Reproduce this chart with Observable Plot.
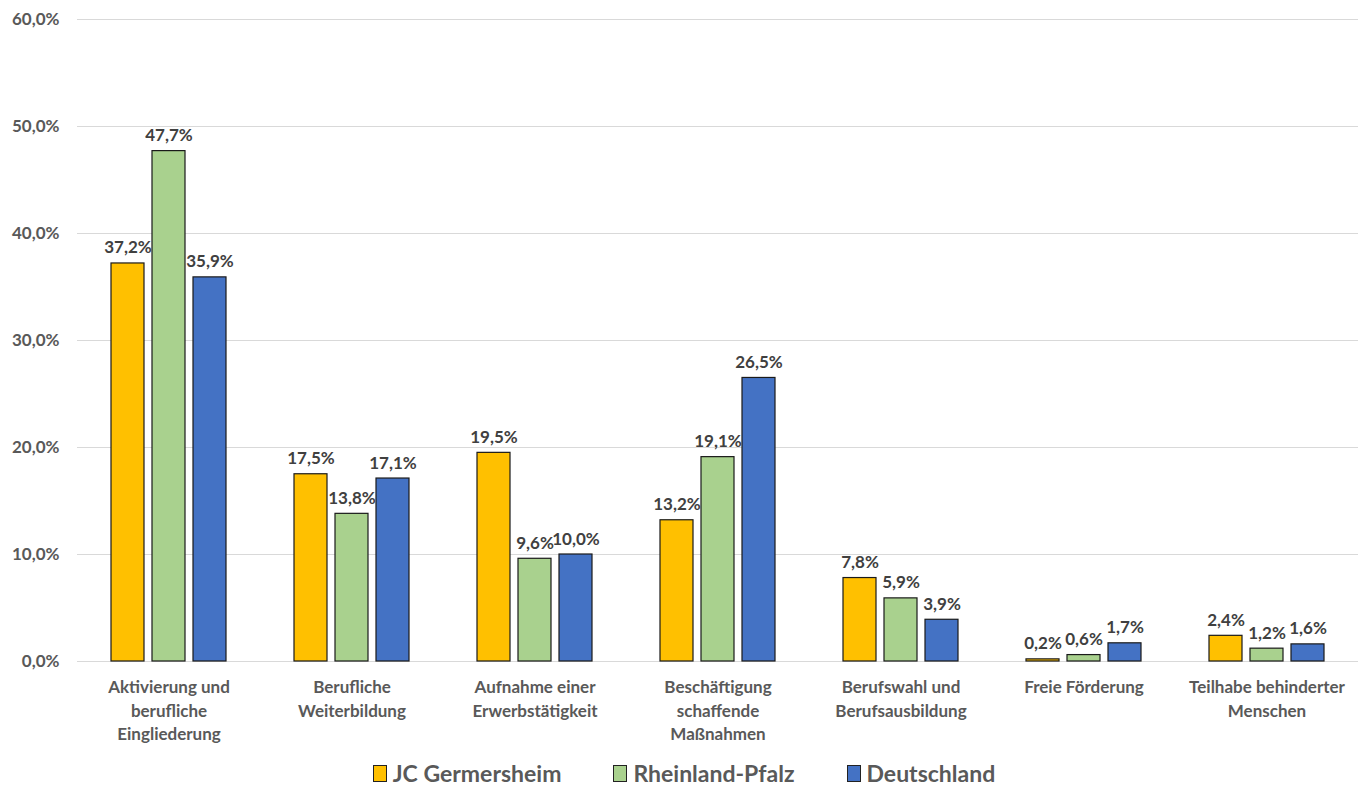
<!DOCTYPE html>
<html><head><meta charset="utf-8">
<script src="https://cdn.jsdelivr.net/npm/d3@7"></script>
<script src="https://cdn.jsdelivr.net/npm/@observablehq/plot@0.6"></script>
<style>
body{margin:0;background:#fff;font-family:Lato,"Open Sans",sans-serif;}
#legend{display:flex;justify-content:center;gap:52px;font-weight:bold;font-size:23px;color:#595959;margin-top:9px;line-height:28px;}
#legend span.item{display:flex;align-items:center;}
#legend span.sw{display:inline-block;width:12px;height:15px;border:1.5px solid #222;margin-right:6px;}
</style></head>
<body>
<div id="chart"></div>
<div id="legend"></div>
<script>
const categories = ["Aktivierung und berufliche Eingliederung","Berufliche Weiterbildung","Aufnahme einer Erwerbstätigkeit","Beschäftigung schaffende Maßnahmen","Berufswahl und Berufsausbildung","Freie Förderung","Teilhabe behinderter Menschen"];
const categoryLines = ["Aktivierung und\nberufliche\nEingliederung","Berufliche\nWeiterbildung","Aufnahme einer\nErwerbstätigkeit","Beschäftigung\nschaffende\nMaßnahmen","Berufswahl und\nBerufsausbildung","Freie Förderung","Teilhabe behinderter\nMenschen"];
const series = ["JC Germersheim","Rheinland-Pfalz","Deutschland"];
const colors = ["#FFC000","#A9D18E","#4472C4"];
const jcGermersheim = [37.2,17.5,19.5,13.2,7.8,0.2,2.4];
const rheinlandPfalz = [47.7,13.8,9.6,19.1,5.9,0.6,1.2];
const deutschland = [35.9,17.1,10.0,26.5,3.9,1.7,1.6];
const yTicks = [0,10,20,30,40,50,60];

const values = [jcGermersheim, rheinlandPfalz, deutschland];
const data = [];
categories.forEach((c,i)=>series.forEach((s,j)=>data.push({category:c, series:s, value:values[j][i]})));
const fmt = d => d.toFixed(1).replace(".", ",") + "%";
const labelMap = new Map(categories.map((c,i)=>[c, categoryLines[i]]));

const chart = Plot.plot({
  width: 1368, height: 750,
  marginLeft: 75, marginRight: 8, marginTop: 19, marginBottom: 89,
  style: {fontFamily: "Lato, 'Open Sans', sans-serif", background: "#fff"},
  fx: {domain: categories, padding: 0, label: null},
  x: {domain: series, paddingInner: 0.2, paddingOuter: 0.825, axis: null},
  y: {domain: [0,60], label: null},
  color: {domain: series, range: colors},
  marks: [
    Plot.ruleY(yTicks, {stroke: "#d9d9d9", strokeWidth: 1}),
    Plot.axisY({ticks: yTicks, tickFormat: fmt, tickSize: 0, tickPadding: 18, fontSize: 17, fontWeight: "bold", fill: "#595959", label: null}),
    Plot.axisFx({anchor: "bottom", tickSize: 0, tickPadding: 15, tickFormat: d => labelMap.get(d), fontSize: 17, fontWeight: "bold", fill: "#595959", lineHeight: 1.38, textAnchor: "middle", lineAnchor: "top", label: null}),
    Plot.barY(data, {fx: "category", x: "series", y: "value", fill: "series", stroke: "#1a1a1a", strokeWidth: 1.2}),
    Plot.text(data, {fx: "category", x: "series", y: "value", text: d => fmt(d.value), dy: -10, lineAnchor: "bottom", fontSize: 17, fontWeight: "bold", fill: "#404040"})
  ]
});
document.getElementById("chart").appendChild(chart);

const legend = document.getElementById("legend");
series.forEach((s,i)=>{
  const it = document.createElement("span"); it.className = "item";
  const sw = document.createElement("span"); sw.className = "sw"; sw.style.background = colors[i];
  it.appendChild(sw); it.appendChild(document.createTextNode(s));
  legend.appendChild(it);
});
</script>
</body></html>
